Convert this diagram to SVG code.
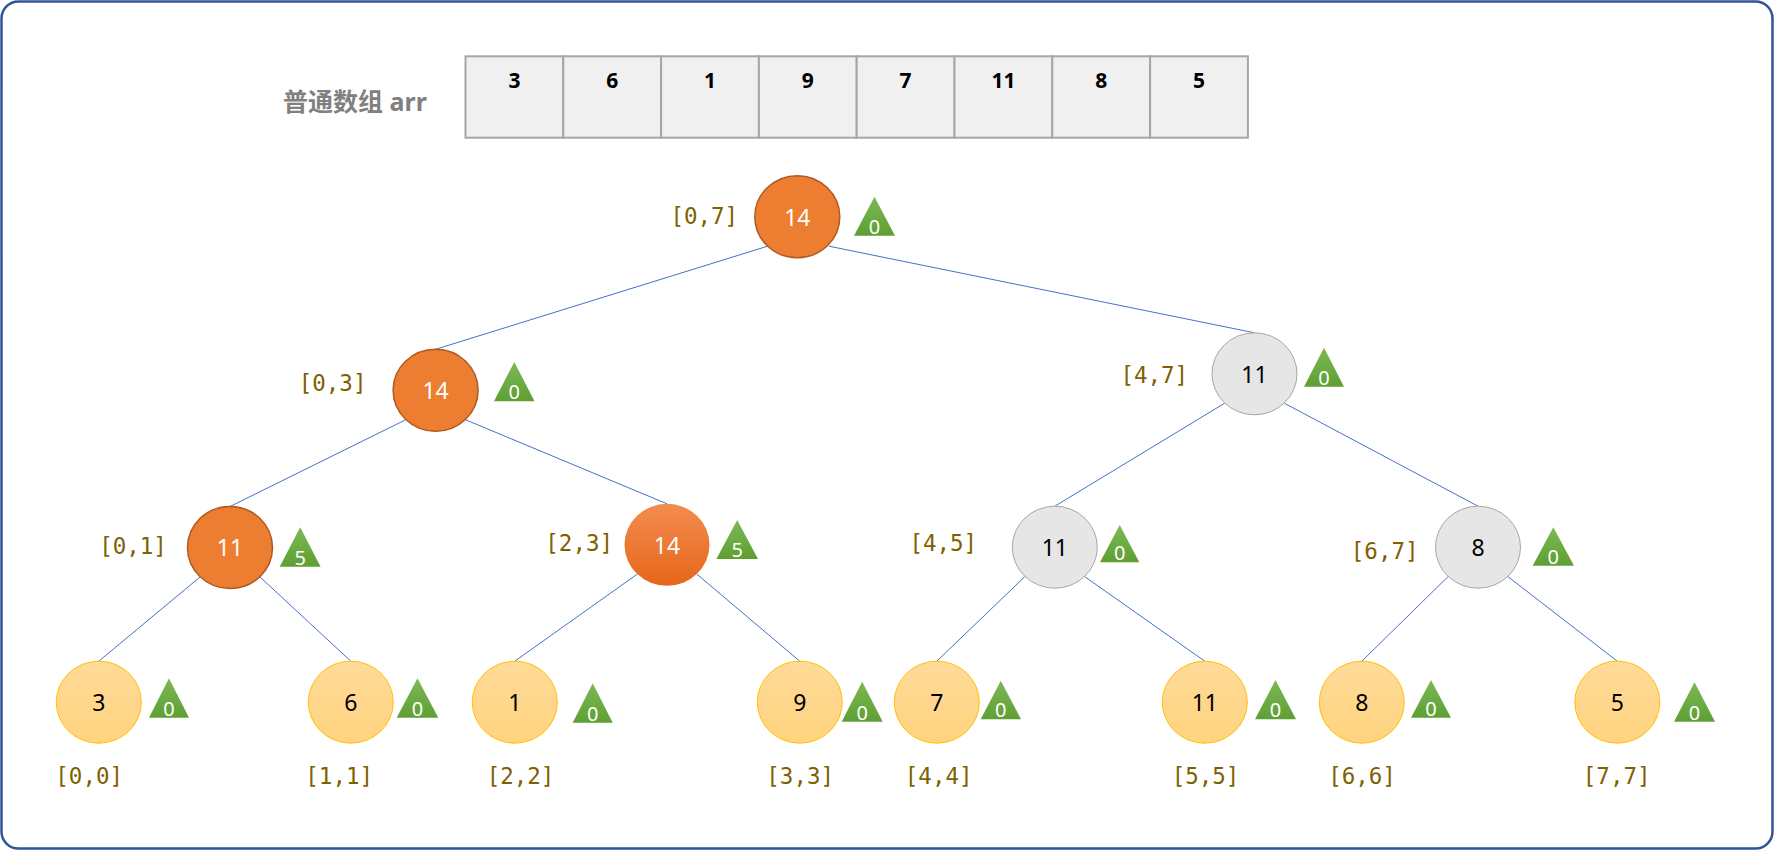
<svg xmlns="http://www.w3.org/2000/svg" width="1774" height="850" viewBox="0 0 1774 850">
<defs>
<linearGradient id="gLeaf" x1="0" y1="0" x2="0" y2="1"><stop offset="0" stop-color="#FFDA99"/><stop offset="1" stop-color="#FFD47F"/></linearGradient>
<linearGradient id="gTri" x1="0" y1="0" x2="0" y2="1"><stop offset="0" stop-color="#7DB855"/><stop offset="1" stop-color="#5E9F33"/></linearGradient>
<linearGradient id="gHot" x1="0" y1="0" x2="0" y2="1"><stop offset="0" stop-color="#F38C50"/><stop offset="1" stop-color="#E7661A"/></linearGradient>
</defs>
<style>
.frame{fill:#FFFFFF;stroke:#2F5597;stroke-width:2.5}
.cell{fill:#F0F0F0;stroke:#A6A6A6;stroke-width:2}
.cellt{font-family:"Noto Sans","DejaVu Sans",sans-serif;font-weight:bold;font-size:21px;fill:#000;text-anchor:middle}
.title{font-family:"Noto Sans","Noto Sans CJK SC",sans-serif;font-weight:bold;font-size:25px;fill:#808080}
.edge{stroke:#4472C4;stroke-width:1;fill:none}
.orange{fill:#ED7D31;stroke:#AE5A21;stroke-width:1.5}
.hot{fill:url(#gHot);stroke:none}
.grey{fill:#E6E6E6;stroke:#A6A6A6;stroke-width:1}
.leaf{fill:url(#gLeaf);stroke:#FFC000;stroke-width:1}
.tri{fill:url(#gTri)}
.nw{font-family:"Noto Sans",sans-serif;font-size:23px;fill:#FFFFFF;text-anchor:middle}
.nb{font-family:"Noto Sans",sans-serif;font-size:23px;fill:#000000;text-anchor:middle}
.tt{font-family:"Noto Sans",sans-serif;font-size:20px;fill:#FFFFFF;text-anchor:middle}
.rg{font-family:"DejaVu Sans Mono",monospace;font-size:22.5px;fill:#7F6000;text-anchor:middle}
</style>
<rect class="frame" x="1.5" y="1.5" width="1771" height="847" rx="17"/>

<g id="array">
<text class="title" x="283" y="111">普通数组 arr</text>
<rect class="cell" x="465.5" y="56.3" width="97.8" height="81.4"/>
<rect class="cell" x="563.3" y="56.3" width="97.8" height="81.4"/>
<rect class="cell" x="661.1" y="56.3" width="97.8" height="81.4"/>
<rect class="cell" x="758.9" y="56.3" width="97.8" height="81.4"/>
<rect class="cell" x="856.7" y="56.3" width="97.8" height="81.4"/>
<rect class="cell" x="954.5" y="56.3" width="97.8" height="81.4"/>
<rect class="cell" x="1052.3" y="56.3" width="97.8" height="81.4"/>
<rect class="cell" x="1150.1" y="56.3" width="97.8" height="81.4"/>
<text class="cellt" x="514.4" y="87.5">3</text>
<text class="cellt" x="612.2" y="87.5">6</text>
<text class="cellt" x="710" y="87.5">1</text>
<text class="cellt" x="807.8" y="87.5">9</text>
<text class="cellt" x="905.6" y="87.5">7</text>
<text class="cellt" x="1003.4" y="87.5">11</text>
<text class="cellt" x="1101.2" y="87.5">8</text>
<text class="cellt" x="1199" y="87.5">5</text>
</g>

<g id="connectors">
<line class="edge" x1="767.5" y1="246.2" x2="435.6" y2="349.3"/>
<line class="edge" x1="829" y1="246.2" x2="1254.5" y2="332.8"/>
<line class="edge" x1="405.6" y1="419.8" x2="230" y2="506.5"/>
<line class="edge" x1="465.6" y1="419.8" x2="667" y2="503.8"/>
<line class="edge" x1="1224.5" y1="403.3" x2="1054.8" y2="506.2"/>
<line class="edge" x1="1284.5" y1="403.3" x2="1478" y2="506.2"/>
<line class="edge" x1="200" y1="577" x2="98.8" y2="661.2"/>
<line class="edge" x1="260" y1="577" x2="350.8" y2="661.2"/>
<line class="edge" x1="637" y1="574.3" x2="514.8" y2="661.2"/>
<line class="edge" x1="697" y1="574.3" x2="799.8" y2="661.2"/>
<line class="edge" x1="1024.8" y1="576.7" x2="936.8" y2="661.2"/>
<line class="edge" x1="1084.8" y1="576.7" x2="1204.8" y2="661.2"/>
<line class="edge" x1="1448" y1="576.7" x2="1361.8" y2="661.2"/>
<line class="edge" x1="1508" y1="576.7" x2="1617.3" y2="661.2"/>
</g>

<g id="n07">
<ellipse class="orange" cx="797.3" cy="216.7" rx="42.5" ry="41"/>
<text class="nw" x="797.3" y="225.5">14</text>
<polygon class="tri" points="874.5,196.7 895,235.7 854,235.7"/>
<text class="tt" x="874.5" y="233.5">0</text>
<text class="rg" x="704.3" y="223.5">[0,7]</text>
</g>
<g id="n03">
<ellipse class="orange" cx="435.6" cy="390.3" rx="42.5" ry="41"/>
<text class="nw" x="435.6" y="399">14</text>
<polygon class="tri" points="514.3,362 534.5,401.3 494,401.3"/>
<text class="tt" x="514.3" y="399.2">0</text>
<text class="rg" x="332.6" y="390.5">[0,3]</text>
</g>
<g id="n47">
<ellipse class="grey" cx="1254.5" cy="373.8" rx="42.5" ry="41"/>
<text class="nb" x="1254.5" y="382.5">11</text>
<polygon class="tri" points="1324,347.7 1344,386.7 1304,386.7"/>
<text class="tt" x="1324" y="384.5">0</text>
<text class="rg" x="1154.3" y="383">[4,7]</text>
</g>
<g id="n01">
<ellipse class="orange" cx="230" cy="547.5" rx="42.5" ry="41"/>
<text class="nw" x="230" y="556.3">11</text>
<polygon class="tri" points="300.2,527.3 320.6,566.7 279.7,566.7"/>
<text class="tt" x="300.2" y="564.5">5</text>
<text class="rg" x="133" y="554">[0,1]</text>
</g>
<g id="n23">
<ellipse class="hot" cx="667" cy="544.8" rx="42.5" ry="41"/>
<text class="nw" x="667" y="553.5">14</text>
<polygon class="tri" points="737.2,520 758,559 716.4,559"/>
<text class="tt" x="737.2" y="556.8">5</text>
<text class="rg" x="579.2" y="550.5">[2,3]</text>
</g>
<g id="n45">
<ellipse class="grey" cx="1054.8" cy="547.2" rx="42.5" ry="41"/>
<text class="nb" x="1054.8" y="556">11</text>
<polygon class="tri" points="1119.7,525 1139.3,562.3 1100,562.3"/>
<text class="tt" x="1119.7" y="560.2">0</text>
<text class="rg" x="943.3" y="551">[4,5]</text>
</g>
<g id="n67">
<ellipse class="grey" cx="1478" cy="547.2" rx="42.5" ry="41"/>
<text class="nb" x="1478" y="556">8</text>
<polygon class="tri" points="1553.3,527.3 1574,565.7 1532.7,565.7"/>
<text class="tt" x="1553.3" y="563.5">0</text>
<text class="rg" x="1384.7" y="558.5">[6,7]</text>
</g>

<g id="n00">
<ellipse class="leaf" cx="98.8" cy="702.2" rx="42.5" ry="41"/>
<text class="nb" x="98.8" y="711">3</text>
<polygon class="tri" points="169,678.3 189,717.7 149,717.7"/>
<text class="tt" x="169" y="715.5">0</text>
<text class="rg" x="89.2" y="783.5">[0,0]</text>
</g>
<g id="n11">
<ellipse class="leaf" cx="350.8" cy="702.2" rx="42.5" ry="41"/>
<text class="nb" x="350.8" y="711">6</text>
<polygon class="tri" points="417.5,678.3 438.3,717.7 396.7,717.7"/>
<text class="tt" x="417.5" y="715.5">0</text>
<text class="rg" x="339.2" y="783.5">[1,1]</text>
</g>
<g id="n22">
<ellipse class="leaf" cx="514.8" cy="702.2" rx="42.5" ry="41"/>
<text class="nb" x="514.8" y="711">1</text>
<polygon class="tri" points="592.7,683.3 612.7,722.7 572.7,722.7"/>
<text class="tt" x="592.7" y="720.5">0</text>
<text class="rg" x="520.5" y="783.5">[2,2]</text>
</g>
<g id="n33">
<ellipse class="leaf" cx="799.8" cy="702.2" rx="42.5" ry="41"/>
<text class="nb" x="799.8" y="711">9</text>
<polygon class="tri" points="862.2,681.7 882.7,721.7 841.7,721.7"/>
<text class="tt" x="862.2" y="719.5">0</text>
<text class="rg" x="800.2" y="783.5">[3,3]</text>
</g>
<g id="n44">
<ellipse class="leaf" cx="936.8" cy="702.2" rx="42.5" ry="41"/>
<text class="nb" x="936.8" y="711">7</text>
<polygon class="tri" points="1000.8,680.7 1021,719.3 980.7,719.3"/>
<text class="tt" x="1000.8" y="717.2">0</text>
<text class="rg" x="938.7" y="783.5">[4,4]</text>
</g>
<g id="n55">
<ellipse class="leaf" cx="1204.8" cy="702.2" rx="42.5" ry="41"/>
<text class="nb" x="1204.8" y="711">11</text>
<polygon class="tri" points="1275.5,680 1296,719.3 1255,719.3"/>
<text class="tt" x="1275.5" y="717.2">0</text>
<text class="rg" x="1205.5" y="783.5">[5,5]</text>
</g>
<g id="n66">
<ellipse class="leaf" cx="1361.8" cy="702.2" rx="42.5" ry="41"/>
<text class="nb" x="1361.8" y="711">8</text>
<polygon class="tri" points="1431,680 1451,717.7 1411,717.7"/>
<text class="tt" x="1431" y="715.5">0</text>
<text class="rg" x="1362" y="783.5">[6,6]</text>
</g>
<g id="n77">
<ellipse class="leaf" cx="1617.3" cy="702.2" rx="42.5" ry="41"/>
<text class="nb" x="1617.3" y="711">5</text>
<polygon class="tri" points="1694.5,682.3 1715,721.7 1674,721.7"/>
<text class="tt" x="1694.5" y="719.5">0</text>
<text class="rg" x="1616.7" y="783.5">[7,7]</text>
</g>
</svg>
